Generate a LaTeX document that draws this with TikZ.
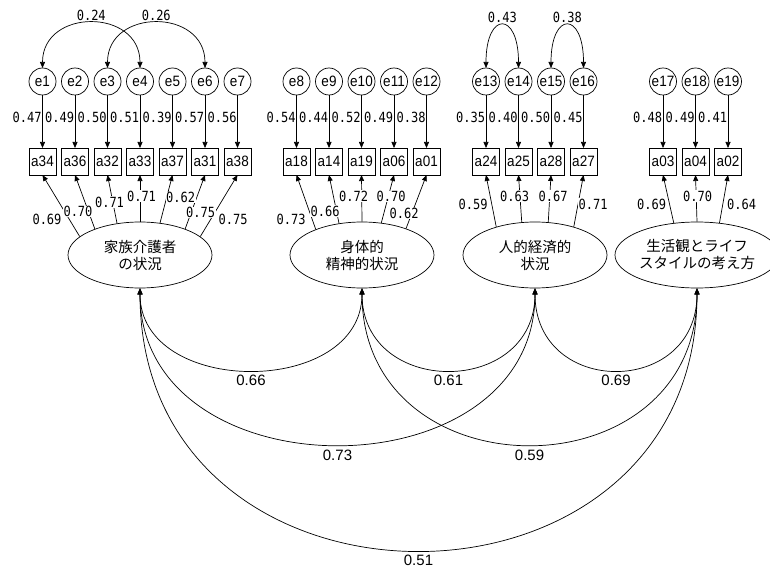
\documentclass[tikz,border=0pt]{standalone}
\usepackage{fontspec}
\setmainfont{Liberation Sans}
\newfontfamily\jpfont{Noto Sans CJK JP}
\newfontfamily\numfont[FakeStretch=0.86]{DejaVu Sans Mono}
\newfontfamily\boxfont[FakeStretch=0.9]{Liberation Sans}
\usetikzlibrary{positioning,arrows.meta,shapes.geometric}

\begin{document}
\begin{tikzpicture}[
  x=1pt, y=-1pt,
  line width=0.7pt,
  obs/.style={rectangle, draw, minimum size=27pt, inner sep=0pt, outer sep=0pt, font=\boxfont\fontsize{15}{15}\selectfont},
  err/.style={circle, draw, minimum size=27pt, inner sep=0pt, outer sep=0pt, font=\boxfont\fontsize{15}{15}\selectfont},
  lat/.style={ellipse, draw, minimum width=144pt, minimum height=66pt, inner sep=0pt, align=center, font=\jpfont\fontsize{14.5}{17}\selectfont},
  arr/.style={-{Triangle[length=6pt,width=5pt]}},
  cov/.style={{Triangle[length=6pt,width=5pt]}-{Triangle[length=6pt,width=5pt]}},
  val/.style={font=\numfont\fontsize{14}{14}\selectfont, inner sep=0.5pt},
  ld/.style={val, fill=white},
  cor/.style={font=\fontsize{15}{15}\selectfont, inner sep=1pt}
]
\useasboundingbox (0,0) rectangle (770,572);

% Observed variables
\node[obs] at (42.5,161.5)    (a34) {a34};
\node[obs, right=5.5pt of a34] (a36) {a36};
\node[obs, right=5.5pt of a36] (a32) {a32};
\node[obs, right=5.5pt of a32] (a33) {a33};
\node[obs, right=5.5pt of a33] (a37) {a37};
\node[obs, right=5.5pt of a37] (a31) {a31};
\node[obs, right=5.5pt of a31] (a38) {a38};

\node[obs] at (296.5,161.5)   (a18) {a18};
\node[obs, right=5.5pt of a18] (a14) {a14};
\node[obs, right=5.5pt of a14] (a19) {a19};
\node[obs, right=5.5pt of a19] (a06) {a06};
\node[obs, right=5.5pt of a06] (a01) {a01};

\node[obs] at (486,161.5)     (a24) {a24};
\node[obs, right=5.5pt of a24] (a25) {a25};
\node[obs, right=5.5pt of a25] (a28) {a28};
\node[obs, right=5.5pt of a28] (a27) {a27};

\node[obs] at (663,161.5)     (a03) {a03};
\node[obs, right=5.5pt of a03] (a04) {a04};
\node[obs, right=5.5pt of a04] (a02) {a02};

% Error terms
\node[err, above=53pt of a34] (e1)  {e1};
\node[err, above=53pt of a36] (e2)  {e2};
\node[err, above=53pt of a32] (e3)  {e3};
\node[err, above=53pt of a33] (e4)  {e4};
\node[err, above=53pt of a37] (e5)  {e5};
\node[err, above=53pt of a31] (e6)  {e6};
\node[err, above=53pt of a38] (e7)  {e7};
\node[err, above=53pt of a18] (e8)  {e8};
\node[err, above=53pt of a14] (e9)  {e9};
\node[err, above=53pt of a19] (e10) {e10};
\node[err, above=53pt of a06] (e11) {e11};
\node[err, above=53pt of a01] (e12) {e12};
\node[err, above=53pt of a24] (e13) {e13};
\node[err, above=53pt of a25] (e14) {e14};
\node[err, above=53pt of a28] (e15) {e15};
\node[err, above=53pt of a27] (e16) {e16};
\node[err, above=53pt of a03] (e17) {e17};
\node[err, above=53pt of a04] (e18) {e18};
\node[err, above=53pt of a02] (e19) {e19};

% Latent variables
\node[lat] at (140,255) (kaigo)  {家族介護者\\の状況};
\node[lat] at (362,255) (shintai){身体的\\精神的状況};
\node[lat] at (535,255) (keizai) {人的経済的\\状況};
\node[lat] at (697,255) (seikatsu){生活観とライフ\\スタイルの考え方};

% Error paths
\draw[arr] (e1)  -- node[val, left, pos=0.43] {0.47} (a34);
\draw[arr] (e2)  -- node[val, left, pos=0.43] {0.49} (a36);
\draw[arr] (e3)  -- node[val, left, pos=0.43] {0.50} (a32);
\draw[arr] (e4)  -- node[val, left, pos=0.43] {0.51} (a33);
\draw[arr] (e5)  -- node[val, left, pos=0.43] {0.39} (a37);
\draw[arr] (e6)  -- node[val, left, pos=0.43] {0.57} (a31);
\draw[arr] (e7)  -- node[val, left, pos=0.43] {0.56} (a38);
\draw[arr] (e8)  -- node[val, left, pos=0.43] {0.54} (a18);
\draw[arr] (e9)  -- node[val, left, pos=0.43] {0.44} (a14);
\draw[arr] (e10) -- node[val, left, pos=0.43] {0.52} (a19);
\draw[arr] (e11) -- node[val, left, pos=0.43] {0.49} (a06);
\draw[arr] (e12) -- node[val, left, pos=0.43] {0.38} (a01);
\draw[arr] (e13) -- node[val, left, pos=0.43] {0.35} (a24);
\draw[arr] (e14) -- node[val, left, pos=0.43] {0.40} (a25);
\draw[arr] (e15) -- node[val, left, pos=0.43] {0.50} (a28);
\draw[arr] (e16) -- node[val, left, pos=0.43] {0.45} (a27);
\draw[arr] (e17) -- node[val, left, pos=0.43] {0.48} (a03);
\draw[arr] (e18) -- node[val, left, pos=0.43] {0.49} (a04);
\draw[arr] (e19) -- node[val, left, pos=0.43] {0.41} (a02);

% Error covariances
\draw[cov] (e1.north)  .. controls +(0,-60) and +(0,-60) .. (e4.north)  node[val, above=1.5pt, pos=0.5] {0.24};
\draw[cov] (e3.north)  .. controls +(0,-60) and +(0,-60) .. (e6.north)  node[val, above=1.5pt, pos=0.5] {0.26};
\draw[cov] (e13.north) .. controls +(0,-57) and +(0,-57) .. (e14.north) node[val, above=1.5pt, pos=0.5] {0.43};
\draw[cov] (e15.north) .. controls +(0,-57) and +(0,-57) .. (e16.north) node[val, above=1.5pt, pos=0.5] {0.38};

% Loadings
\draw[arr] (kaigo.163) -- (a34.south);
\draw[arr] (kaigo.150) -- (a36.south);
\draw[arr] (kaigo.126) -- (a32.south);
\draw[arr] (kaigo.90)  -- (a33.south);
\draw[arr] (kaigo.58)  -- (a37.south);
\draw[arr] (kaigo.30)  -- (a31.south);
\draw[arr] (kaigo.17)  -- (a38.south);
\draw[arr] (shintai.151) -- (a18.south);
\draw[arr] (shintai.126) -- (a14.south);
\draw[arr] (shintai.90)  -- (a19.south);
\draw[arr] (shintai.59)  -- (a06.south);
\draw[arr] (shintai.31)  -- (a01.south);
\draw[arr] (keizai.144) -- (a24.south);
\draw[arr] (keizai.112) -- (a25.south);
\draw[arr] (keizai.68)  -- (a28.south);
\draw[arr] (keizai.36)  -- (a27.south);
\draw[arr] (seikatsu.126) -- (a03.south);
\draw[arr] (seikatsu.90)  -- (a04.south);
\draw[arr] (seikatsu.55)  -- (a02.south);

% Loading values
\node[ld] at (47,219)    (ld34) {0.69};
\node[ld] at (78,211.5)  (ld36) {0.70};
\node[ld] at (109.5,202) (ld32) {0.71};
\node[ld] at (141.5,196) (ld33) {0.71};
\node[ld] at (180.5,197.5) (ld37) {0.62};
\node[ld] at (200.5,212.5) (ld31) {0.75};
\node[ld] at (233,219)   (ld38) {0.75};
\node[ld] at (291,219)   (ld18) {0.73};
\node[ld] at (325,211)   (ld14) {0.66};
\node[ld] at (353.5,196) (ld19) {0.72};
\node[ld] at (391,196.5) (ld06) {0.70};
\node[ld] at (404,213.5) (ld01) {0.62};
\node[ld] at (473,204)   (ld24) {0.59};
\node[ld] at (514.5,196) (ld25) {0.63};
\node[ld] at (553,196)   (ld28) {0.67};
\node[ld] at (593,204)   (ld27) {0.71};
\node[ld] at (651.7,204) (ld03) {0.69};
\node[ld] at (697.5,196) (ld04) {0.70};
\node[ld] at (741.7,204) (ld02) {0.64};

% Factor correlations
\draw[cov] (kaigo.south)   .. controls +(0,109) and +(0,109) .. (shintai.south)  node[cor, below=4pt, pos=0.5] {0.66};
\draw[cov] (shintai.south) .. controls +(0,109) and +(0,109) .. (keizai.south)   node[cor, below=4pt, pos=0.5] {0.61};
\draw[cov] (keizai.south)  .. controls +(0,109) and +(0,109) .. (seikatsu.south) node[cor, below=4pt, pos=0.5] {0.69};
\draw[cov] (kaigo.south)   .. controls +(0,208) and +(0,208) .. (keizai.south)   node[cor, below=4pt, pos=0.5] {0.73};
\draw[cov] (shintai.south) .. controls +(0,208) and +(0,208) .. (seikatsu.south) node[cor, below=4pt, pos=0.5] {0.59};
\draw[cov] (kaigo.south)   .. controls +(0,349) and +(0,349) .. (seikatsu.south) node[cor, below=4pt, pos=0.5] {0.51};

\end{tikzpicture}
\end{document}
